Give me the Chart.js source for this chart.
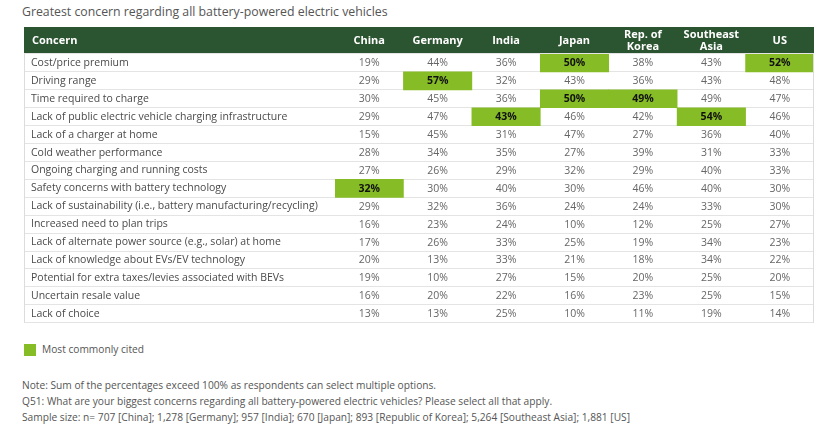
<!DOCTYPE html>
<html>
<head>
<meta charset="utf-8">
<script src="https://cdn.jsdelivr.net/npm/chart.js"></script>
<style>
  body { margin: 0; background: #fff; font-family: "Open Sans", sans-serif; color: #555; }
  #page { position: relative; width: 830px; height: 433px; }
  .title { position: absolute; left: 22px; top: 3px; font-size: 12.3px; color: #555; }
  #wrap { position: absolute; left: 24px; top: 27px; width: 790px; height: 305px; }
  .legend { position: absolute; left: 24px; top: 342px; font-size: 10.2px; color: #555; }
  .legend i { display: inline-block; width: 12px; height: 12px; background: #86bc25; vertical-align: middle; margin-right: 6px; }
  .notes { position: absolute; left: 22px; top: 377px; font-size: 10.2px; line-height: 16px; color: #555; }
</style>
</head>
<body>
<div id="page">
  <div class="title">Greatest concern regarding all battery-powered electric vehicles</div>
  <div id="wrap"><canvas id="tableChart"></canvas></div>
  <div class="legend"><i></i>Most commonly cited</div>
  <div class="notes">
    Note: Sum of the percentages exceed 100% as respondents can select multiple options.<br>
    Q51: What are your biggest concerns regarding all battery-powered electric vehicles? Please select all that apply.<br>
    Sample size: n= 707 [China]; 1,278 [Germany]; 957 [India]; 670 [Japan]; 893 [Republic of Korea]; 5,264 [Southeast Asia]; 1,881 [US]
  </div>
</div>
<script>
// 표 데이터
const concerns = [
    "Cost/price premium",
    "Driving range",
    "Time required to charge",
    "Lack of public electric vehicle charging infrastructure",
    "Lack of a charger at home",
    "Cold weather performance",
    "Ongoing charging and running costs",
    "Safety concerns with battery technology",
    "Lack of sustainability (i.e., battery manufacturing/recycling)",
    "Increased need to plan trips",
    "Lack of alternate power source (e.g., solar) at home",
    "Lack of knowledge about EVs/EV technology",
    "Potential for extra taxes/levies associated with BEVs",
    "Uncertain resale value",
    "Lack of choice"
];
const countries = ["China", "Germany", "India", "Japan", ["Rep. of", "Korea"], ["Southeast", "Asia"], "US"];

const china     = [19, 29, 30, 29, 15, 28, 27, 32, 29, 16, 17, 20, 19, 16, 13];
const germany   = [44, 57, 45, 47, 45, 34, 26, 30, 32, 23, 26, 13, 10, 20, 13];
const india     = [36, 32, 36, 43, 31, 35, 29, 40, 36, 24, 33, 33, 27, 22, 25];
const japan     = [50, 43, 50, 46, 47, 27, 32, 30, 24, 10, 25, 21, 15, 16, 10];
const korea     = [38, 36, 49, 42, 27, 39, 29, 46, 24, 12, 19, 18, 20, 23, 11];
const seAsia    = [43, 43, 49, 54, 36, 31, 40, 40, 33, 25, 34, 34, 25, 25, 19];
const us        = [52, 48, 47, 46, 40, 33, 33, 30, 30, 27, 23, 22, 20, 15, 14];

const columns = [china, germany, india, japan, korea, seAsia, us];

const FONT = "'Open Sans', sans-serif";
const HEADER_GREEN = "#2b5530";
const CITED_GREEN = "#86bc25";

// 각 국가별 최댓값(가장 많이 꼽힌 항목) 표시용 데이터셋
let datasets = columns.map(function(col, c) {
    let max = Math.max.apply(null, col);
    return {
        label: Array.isArray(countries[c]) ? countries[c].join(" ") : countries[c],
        data: col.map(v => v === max ? [c, c + 1] : null),
        backgroundColor: CITED_GREEN,
        borderWidth: 0,
        barPercentage: 1,
        categoryPercentage: 1,
        grouped: false
    };
});

// 헤더와 셀 값 그리기
const tablePlugin = {
    id: "tableText",
    beforeDraw(chart) {
        const ctx = chart.ctx;
        ctx.save();
        ctx.fillStyle = HEADER_GREEN;
        ctx.fillRect(0, 0, chart.width, chart.chartArea.top);
        ctx.restore();
    },
    afterDatasetsDraw(chart) {
        const ctx = chart.ctx;
        const x = chart.scales.x, y = chart.scales.y;
        const area = chart.chartArea;
        ctx.save();
        // header
        ctx.fillStyle = "#fff";
        ctx.font = "bold 11px " + FONT;
        ctx.textBaseline = "middle";
        ctx.textAlign = "left";
        let hy = area.top / 2;
        ctx.fillText("Concern", 8, hy);
        ctx.textAlign = "center";
        countries.forEach(function(name, c) {
            let cx = x.getPixelForValue(c + 0.5);
            if (Array.isArray(name)) {
                ctx.fillText(name[0], cx, hy - 6);
                ctx.fillText(name[1], cx, hy + 6);
            } else {
                ctx.fillText(name, cx, hy);
            }
        });
        // values
        columns.forEach(function(col, c) {
            let max = Math.max.apply(null, col);
            let cx = x.getPixelForValue(c + 0.5);
            col.forEach(function(v, r) {
                let cy = y.getPixelForValue(r);
                if (v === max) {
                    ctx.fillStyle = "#111";
                    ctx.font = "bold 10.5px " + FONT;
                } else {
                    ctx.fillStyle = "#666";
                    ctx.font = "10.5px " + FONT;
                }
                ctx.fillText(v + "%", cx, cy + 0.5);
            });
        });
        // outer border
        ctx.strokeStyle = "#dcdcdc";
        ctx.lineWidth = 1;
        ctx.beginPath();
        ctx.moveTo(0.5, area.top);
        ctx.lineTo(0.5, area.bottom);
        ctx.moveTo(area.right - 0.5, area.top);
        ctx.lineTo(area.right - 0.5, area.bottom);
        ctx.stroke();
        ctx.restore();
    }
};

new Chart(document.getElementById("tableChart"), {
    type: "bar",
    data: {
        labels: concerns,
        datasets: datasets
    },
    options: {
        indexAxis: "y",
        responsive: true,
        maintainAspectRatio: false,
        animation: false,
        layout: { padding: { left: 7, top: 27, right: 0, bottom: 1 } },
        plugins: {
            legend: { display: false },
            tooltip: { enabled: false }
        },
        scales: {
            x: {
                type: "linear",
                min: 0,
                max: 7,
                display: false
            },
            y: {
                type: "category",
                offset: true,
                grid: {
                    offset: true,
                    color: "#e4e4e4",
                    lineWidth: 1,
                    tickLength: 311
                },
                border: { display: false },
                ticks: {
                    crossAlign: "far",
                    autoSkip: false,
                    color: "#4a4a4a",
                    font: { family: FONT, size: 10.5 }
                },
                afterFit(scale) {
                    scale.width = 304;
                }
            }
        }
    },
    plugins: [tablePlugin]
});
</script>
</body>
</html>
